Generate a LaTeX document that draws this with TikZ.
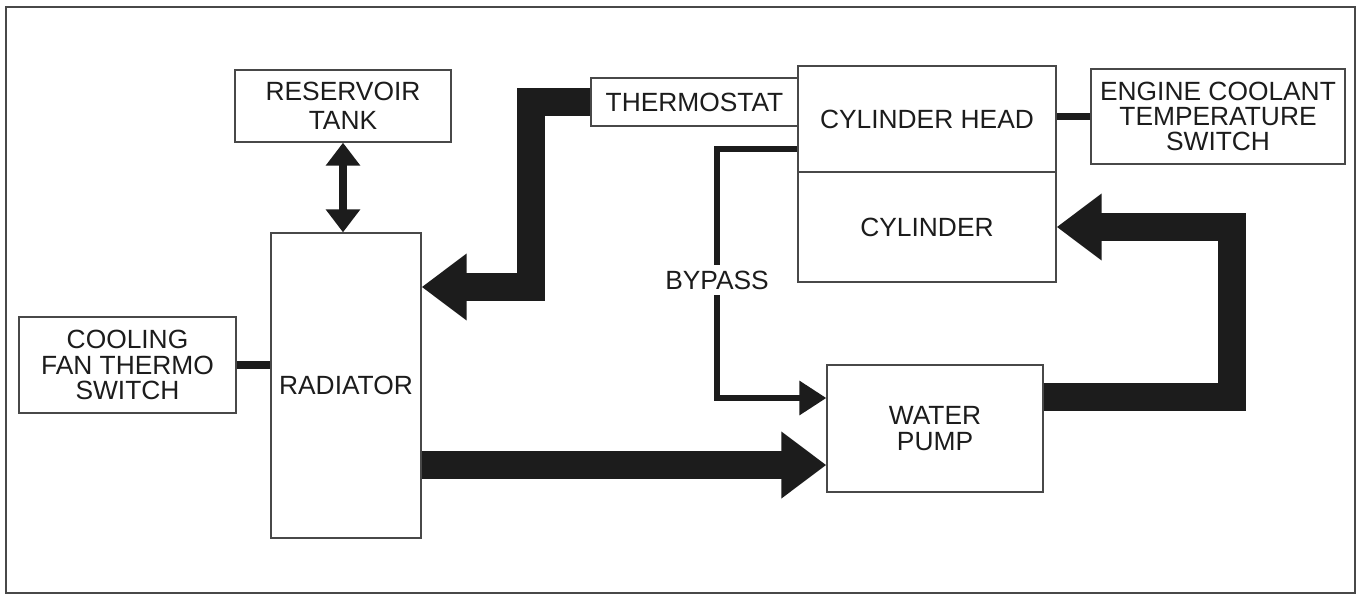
\documentclass[tikz,border=0pt]{standalone}
\usepackage{fontspec}
\setmainfont{Liberation Sans}
\usetikzlibrary{arrows.meta}
\definecolor{ink}{RGB}{28,28,28}
\definecolor{boxline}{RGB}{72,72,72}
\tikzset{
  part/.style={draw=boxline, line width=0.8pt, fill=white, inner sep=2pt,
               align=center, text=ink, font=\fontsize{15}{14.3}\selectfont},
  tag/.style={fill=white, inner sep=3pt, text=ink, font=\fontsize{15}{14.3}\selectfont},
  flow/.style={draw=ink, line width=15.4pt, -{Triangle[length=25.6pt,width=36.4pt]}},
  bypassline/.style={draw=ink, line width=3.4pt, -{Triangle[length=15.3pt,width=18.8pt]}},
  tankline/.style={draw=ink, line width=5pt,
               {Triangle[length=13pt,width=18.8pt]}-{Triangle[length=13pt,width=18.8pt]}},
  wire/.style={draw=ink, line width=4.3pt},
}

\begin{document}
\begin{tikzpicture}[x=0.02cm,y=-0.02cm]
  \useasboundingbox (0,0) rectangle (1362,596);
  \draw[boxline, line width=1.1pt] (6,7) rectangle (1355,593);   % frame
  % ====== left side ======
  \node[part, minimum width=4.32cm, minimum height=1.44cm] (tank) at (343,106) {RESERVOIR\\[2pt]TANK};
  \node[part, minimum width=3cm, minimum height=6.1cm] (radiator) at (346,385.5) {RADIATOR};
  \node[part, minimum width=4.34cm, minimum height=1.92cm] (fansw) at (127.5,365) {COOLING\\FAN THERMO\\SWITCH};
  % ====== engine ======
  \node[part, minimum width=4.14cm, minimum height=0.96cm] (thermo) at (694.5,102) {THERMOSTAT};
  \node[part, minimum width=5.16cm, minimum height=2.12cm] (cylhead) at (927,119) {CYLINDER HEAD};
  \node[part, minimum width=5.16cm, minimum height=2.2cm] (cyl) at (927,227) {CYLINDER};
  \node[part, minimum width=5.08cm, minimum height=1.9cm] (coolsw) at (1218,116.5) {ENGINE COOLANT\\TEMPERATURE\\SWITCH};
  \node[part, minimum width=4.32cm, minimum height=2.54cm] (pump) at (935,428.5) {WATER\\PUMP};
  % ====== connectors ======
  \draw[tankline] (tank.south) -- (tank.south |- radiator.north);
  \draw[wire] (fansw.east) -- (fansw.east -| radiator.west);
  \draw[wire] (coolsw.west) -- (coolsw.west -| cylhead.east);
  \draw[flow] (thermo.west) -| (531,287) -- (radiator.east |- 531,287);   % hot side
  \draw[flow] (radiator.east |- 0,465) -- (pump.west |- 0,465);           % cooled side
  \draw[flow] (pump.east |- 0,397) -| (1232,227) -- (cyl.east);
  \draw[bypassline] (cylhead.west |- 0,149) -| (717,398) -- (pump.west |- 0,398);
  \node[tag] (bypass) at (717,280) {BYPASS};
\end{tikzpicture}
\end{document}
